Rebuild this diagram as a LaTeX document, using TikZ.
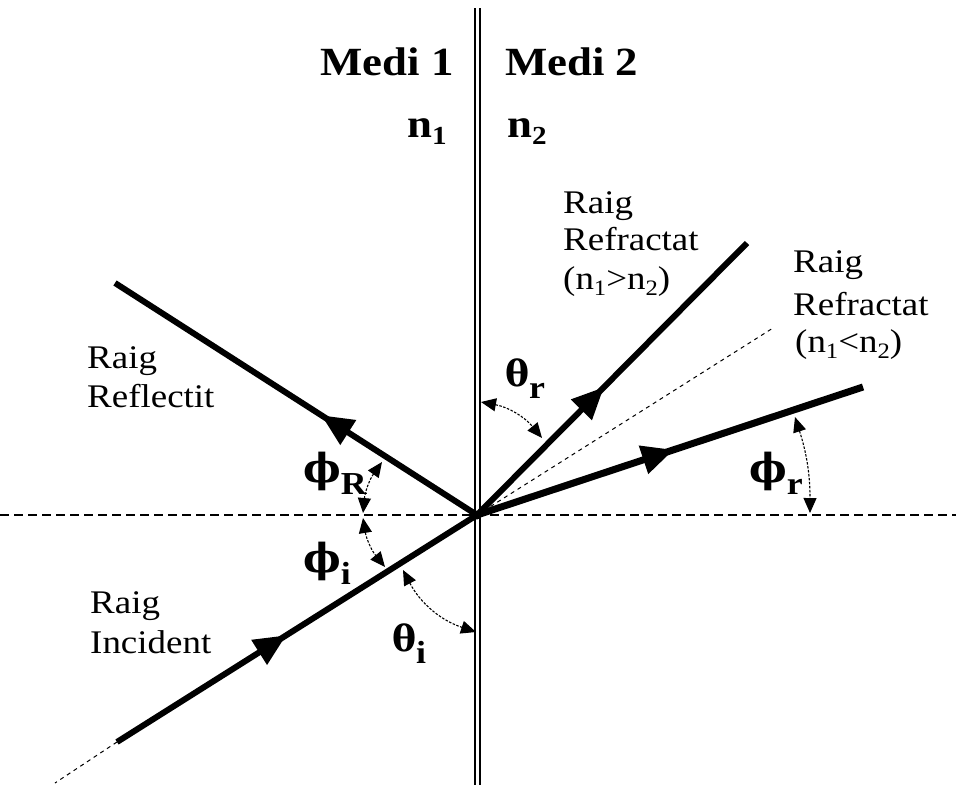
\documentclass[tikz,border=0pt]{standalone}
\usepackage{fontspec}
\setmainfont{Liberation Serif}[FakeStretch=1.12]
\newfontfamily\grk{DejaVu Serif}
\usetikzlibrary{arrows.meta,decorations.markings}
\newcommand{\lsub}[1]{\raisebox{-6pt}{\fontsize{22}{22}\selectfont #1}}
\newcommand{\bsub}[1]{\raisebox{-7pt}{\fontsize{26}{26}\selectfont #1}}
\newcommand{\gsub}[1]{\raisebox{-12pt}{\fontsize{32}{32}\selectfont\rmfamily\bfseries #1}}
\begin{document}
\begin{tikzpicture}[x=1pt,y=-1pt,
  lbl/.style={inner sep=0pt,anchor=base west,font=\fontsize{33}{38}\selectfont},
  big/.style={inner sep=0pt,font=\fontsize{40}{44}\selectfont\bfseries},
  thlbl/.style={inner sep=0pt,anchor=base west,font=\fontsize{36}{40}\selectfont\grk\bfseries},
  phlbl/.style={inner sep=0pt,anchor=base west,font=\fontsize{40}{44}\selectfont\grk\bfseries},
  ray/.style={line width=6pt},
  thickray/.style={line width=7pt},
  axisline/.style={line width=1.6pt,dash pattern=on 9pt off 5pt},
  thindash/.style={line width=1pt,dash pattern=on 4pt off 4pt},
  wall/.style={line width=1.5pt},
  anglearc/.style={line width=1.1pt,dash pattern=on 2.5pt off 1.5pt,
    {Triangle[length=15pt,width=13pt]}-{Triangle[length=15pt,width=13pt]}},
  midarrow/.style={postaction={decorate},decoration={markings,
    mark=at position #1 with {\arrow{Triangle[length=32pt,width=28pt]}}}}
]
\useasboundingbox (0,0) rectangle (956,785);
% coordinates
\coordinate (O) at (477,515);
\coordinate (hL) at (0,515);
\coordinate (hR) at (956,515);
\coordinate (vLt) at (475,8);
\coordinate (vLb) at (475,785);
\coordinate (vRt) at (480,8);
\coordinate (vRb) at (480,785);
\coordinate (Rend) at (115,283);
\coordinate (Iend) at (117,742);
\coordinate (Iext) at (55,783);
\coordinate (T1) at (747,243);
\coordinate (Td) at (773,328);
\coordinate (T2) at (863,387);
% angle arc end points
\coordinate (a1) at (481,402);
\coordinate (a2) at (542,438);
\coordinate (b1) at (382,462);
\coordinate (b2) at (363,513);
\coordinate (c1) at (363,518);
\coordinate (c2) at (385,567);
\coordinate (d1) at (403,570);
\coordinate (d2) at (476,632);
\coordinate (e1) at (795,417);
\coordinate (e2) at (810,513);
% axis and interface
\draw[axisline] (hL) -- (hR);
\draw[wall] (vLt) -- (vLb);
\draw[wall] (vRt) -- (vRb);
% rays
\draw[thindash] (O) -- (Td);
\draw[thindash] (Iend) -- (Iext);
\draw[ray,midarrow=0.43] (O) -- (Rend);
\draw[ray,midarrow=0.47] (Iend) -- (O);
\draw[ray,midarrow=0.47] (O) -- (T1);
\draw[thickray,midarrow=0.51] (O) -- (T2);
\fill (O) circle (4.5pt);
% angle arcs
\draw[anglearc] (a1) to[bend left=20] (a2);
\draw[anglearc] (b1) to[bend right=15] (b2);
\draw[anglearc] (c1) to[bend right=15] (c2);
\draw[anglearc] (d1) to[bend right=22] (d2);
\draw[anglearc] (e1) to[bend left=9] (e2);
% media labels
\node[big,anchor=base east] (m1) at (454,75) {Medi 1};
\node[big,anchor=base west] (m2) at (505,75) {Medi 2};
\node[big,anchor=base west] (n1) at (407,137) {n\bsub{1}};
\node[big,anchor=base west] (n2) at (507,137) {n\bsub{2}};
% ray labels
\node[lbl] (rf1) at (87,368) {Raig};
\node[lbl] (rf2) at (87,407) {Reflectit};
\node[lbl] (in1) at (90,613) {Raig};
\node[lbl] (in2) at (90,653) {Incident};
\node[lbl] (ra1) at (563,213) {Raig};
\node[lbl] (ra2) at (563,250) {Refractat};
\node[lbl] (ra3) at (563,289) {(n\lsub{1}>n\lsub{2})};
\node[lbl] (rb1) at (793,272) {Raig};
\node[lbl] (rb2) at (793,315) {Refractat};
\node[lbl] (rb3) at (795,352) {(n\lsub{1}<n\lsub{2})};
% angle labels
\node[thlbl] (thr) at (505,386) {θ\gsub{r}};
\node[phlbl] (phR) at (303,482) {ϕ\gsub{R}};
\node[phlbl] (phi) at (303,572) {ϕ\gsub{i}};
\node[thlbl] (thi) at (392,651) {θ\gsub{i}};
\node[phlbl] (phr) at (749,482) {ϕ\gsub{r}};
\end{tikzpicture}
\end{document}
